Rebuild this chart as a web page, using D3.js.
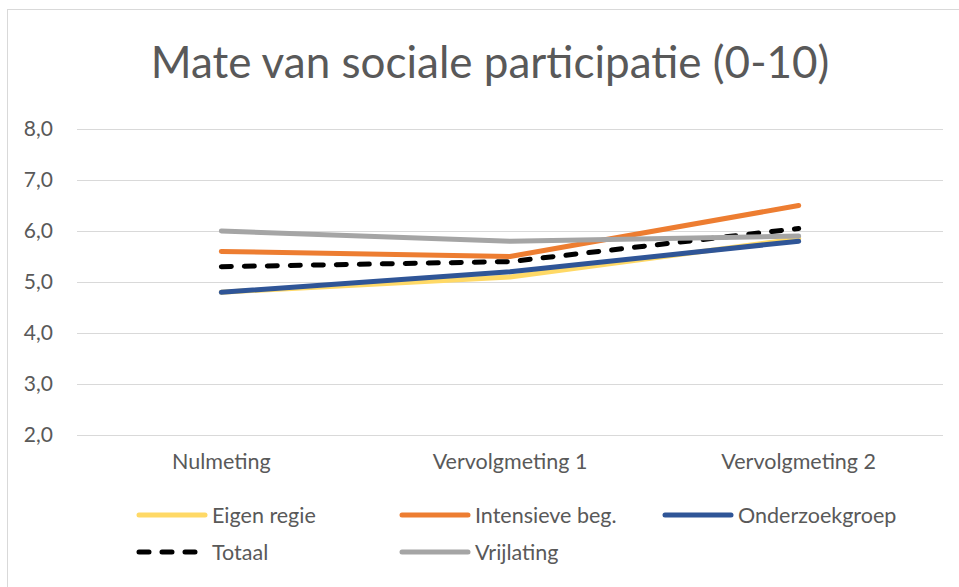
<!DOCTYPE html>
<meta charset="utf-8">
<title>Mate van sociale participatie</title>
<style>
body { margin: 0; background: #fff; font-family: Lato, "Open Sans", sans-serif; }
.grid line { stroke: #d9d9d9; stroke-width: 1; shape-rendering: crispEdges; }
.tick text { fill: #595959; }
</style>
<body>
<script src="https://d3js.org/d3.v7.min.js"></script>
<script>
// data
var categories = ["Nulmeting", "Vervolgmeting 1", "Vervolgmeting 2"];
var seriesNames = ["Eigen regie", "Intensieve beg.", "Onderzoekgroep", "Totaal", "Vrijlating"];
var eigenRegie = [4.8, 5.1, 5.85];
var intensieve = [5.6, 5.5, 6.5];
var onderzoek = [4.8, 5.2, 5.8];
var totaal = [5.3, 5.4, 6.05];
var vrijlating = [6.0, 5.8, 5.9];
var yTicks = [2, 3, 4, 5, 6, 7, 8];

var colors = ["#ffd966", "#ed7d31", "#2f5597", "#000000", "#a5a5a5"];
var series = [eigenRegie, intensieve, onderzoek, totaal, vrijlating];

var W = 959, H = 587;
var margin = {top: 129, left: 77, right: 16, bottom: 152};
var width = W - margin.left - margin.right,
    height = H - margin.top - margin.bottom;

var svg = d3.select("body").append("svg")
    .attr("width", W).attr("height", H);

// chart border
svg.append("rect")
    .attr("x", 7.5).attr("y", 9.5)
    .attr("width", W).attr("height", H)
    .attr("fill", "none").attr("stroke", "#d9d9d9");

svg.append("text")
    .attr("x", 490).attr("y", 78)
    .attr("text-anchor", "middle")
    .attr("fill", "#595959")
    .style("font-size", "44px")
    .text("Mate van sociale participatie (0-10)");

var g = svg.append("g")
    .attr("transform", "translate(" + margin.left + "," + margin.top + ")");

var x = d3.scaleBand().domain(categories).range([0, width]);
var y = d3.scaleLinear().domain([2, 8]).range([height, 0]);

// gridlines
g.append("g").attr("class", "grid")
  .selectAll("line").data(yTicks).enter().append("line")
    .attr("x1", 0).attr("x2", width)
    .attr("y1", function(d) { return Math.round(y(d)); })
    .attr("y2", function(d) { return Math.round(y(d)); });

// y axis labels
var fmt = function(d) { return d3.format(".1f")(d).replace(".", ","); };
var yAxis = g.append("g")
    .call(d3.axisLeft(y).tickValues(yTicks).tickFormat(fmt).tickSize(0).tickPadding(24));
yAxis.select(".domain").remove();
yAxis.selectAll("text").style("font-size", "21px").style("font-family", "Lato, sans-serif");

// x axis labels
var xAxis = g.append("g")
    .attr("transform", "translate(0," + height + ")")
    .call(d3.axisBottom(x).tickSize(0).tickPadding(19));
xAxis.select(".domain").remove();
xAxis.selectAll("text").style("font-size", "21.5px").style("font-family", "Lato, sans-serif");

// lines
var line = d3.line()
    .x(function(d, i) { return x(categories[i]) + x.bandwidth() / 2; })
    .y(function(d) { return y(d); });

series.forEach(function(s, i) {
  g.append("path")
    .datum(s)
    .attr("d", line)
    .attr("fill", "none")
    .attr("stroke", colors[i])
    .attr("stroke-width", 5)
    .attr("stroke-linecap", "round")
    .attr("stroke-linejoin", "round")
    .attr("stroke-dasharray", seriesNames[i] === "Totaal" ? "10,13" : null);
});

// legend
var legendX = [137, 400, 663], legendY = [515, 552];
var leg = svg.append("g").selectAll("g").data(seriesNames).enter().append("g")
    .attr("transform", function(d, i) {
      return "translate(" + legendX[i % 3] + "," + legendY[Math.floor(i / 3)] + ")";
    });
leg.append("line")
    .attr("x1", 2).attr("x2", 68)
    .attr("stroke", function(d, i) { return colors[i]; })
    .attr("stroke-width", 5)
    .attr("stroke-linecap", "round")
    .attr("stroke-dasharray", function(d) { return d === "Totaal" ? "10,13" : null; });
leg.append("text")
    .attr("x", 75).attr("dy", "0.35em")
    .attr("fill", "#595959")
    .style("font-size", "21.5px")
    .text(function(d) { return d; });
</script>
</body>
